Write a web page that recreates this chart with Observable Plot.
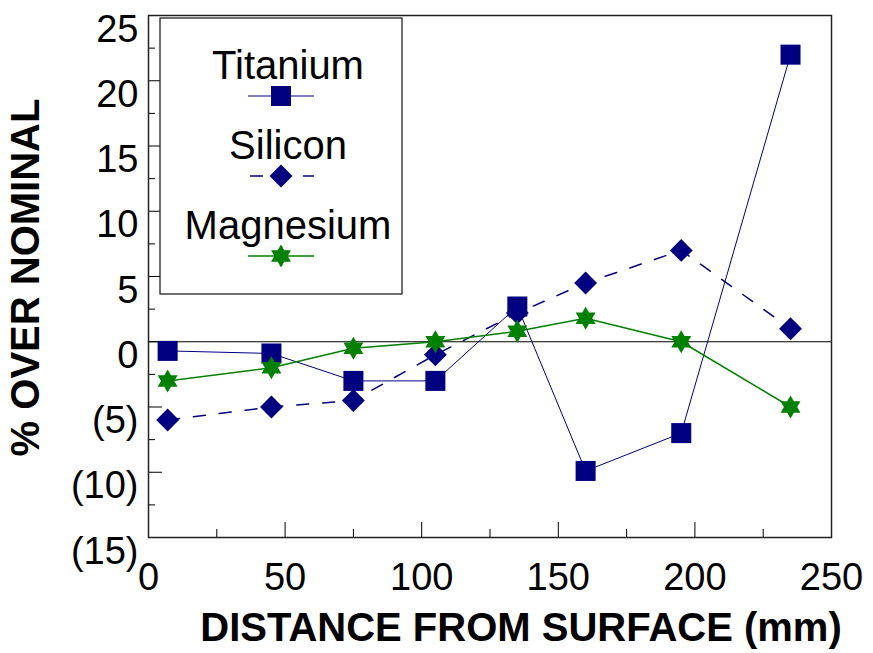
<!DOCTYPE html>
<html>
<head>
<meta charset="utf-8">
<script src="https://cdn.jsdelivr.net/npm/d3@7"></script>
<script src="https://cdn.jsdelivr.net/npm/@observablehq/plot@0.6"></script>
<style>
  html, body { margin: 0; padding: 0; background: #fff; }
  #chart { width: 873px; height: 653px; }
</style>
</head>
<body>
<div id="chart"></div>
<script>
// ---- data ----
const seriesNames = ["Titanium", "Silicon", "Magnesium"];
const distance = [7, 45, 75, 105, 135, 160, 195, 235];
const titanium = [-0.7, -0.9, -3, -3, 2.7, -9.9, -7, 22];
const silicon = [-6, -5, -4.5, -1, 2.2, 4.5, 7, 1];
const magnesium = [-3, -2, -0.5, 0, 0.8, 1.8, 0, -5];
const xTickValues = [0, 50, 100, 150, 200, 250];
const xMinorTicks = [25, 75, 125, 175, 225];
const yTickValues = [-15, -10, -5, 0, 5, 10, 15, 20, 25];
const yMinorTicks = [-12.5, -7.5, -2.5, 2.5, 7.5, 12.5, 17.5, 22.5];
const xTitle = "DISTANCE FROM SURFACE (mm)";
const yTitle = "% OVER NOMINAL";

// ---- styles ----
const NAVY = "#000080", GREEN = "#008000";
const FONT = "'Liberation Sans', Arial, sans-serif";

const hexagram = {
  draw(ctx, size) {
    const R = Math.sqrt(size / Math.PI), r = R / Math.sqrt(3);
    for (let i = 0; i < 12; i++) {
      const a = i * Math.PI / 6 - Math.PI / 2;
      const rad = i % 2 === 0 ? R : r;
      const x = rad * Math.cos(a), y = rad * Math.sin(a);
      if (i === 0) ctx.moveTo(x, y); else ctx.lineTo(x, y);
    }
    ctx.closePath();
  }
};

const series = [
  {name: seriesNames[0], values: titanium, color: NAVY, width: 1, dash: null, symbol: "square", r: 11.3, d3sym: d3.symbolSquare},
  {name: seriesNames[1], values: silicon, color: NAVY, width: 1.5, dash: "12,14", symbol: "diamond2", r: 10.3, d3sym: d3.symbolDiamond2},
  {name: seriesNames[2], values: magnesium, color: GREEN, width: 1.5, dash: null, symbol: hexagram, r: 11.5, d3sym: hexagram}
];
const table = s => distance.map((d, i) => ({x: d, y: s.values[i]}));

const W = 873, H = 653, ML = 148, MR = 42, MT = 15, MB = 116;
const FW = W - ML - MR, FH = H - MT - MB;

const marks = [
  Plot.ruleY([0], {stroke: "#000", strokeWidth: 1}),
  Plot.tickY(yTickValues, {y: d => d, stroke: "#000", insetRight: FW - 14}),
  Plot.tickY(yMinorTicks, {y: d => d, stroke: "#000", insetRight: FW - 7}),
  Plot.tickX(xTickValues, {x: d => d, stroke: "#000", insetTop: FH - 15}),
  Plot.tickX(xMinorTicks, {x: d => d, stroke: "#000", insetTop: FH - 8}),
  Plot.axisY({ticks: yTickValues, tickSize: 0, tickPadding: 10, dy: 14, fontSize: 38,
    tickFormat: d => d < 0 ? `(${-d})` : `${d}`, label: null}),
  Plot.axisX({ticks: xTickValues, tickSize: 0, tickPadding: 26, fontSize: 38, label: null}),
];
for (const s of series) {
  marks.push(Plot.line(table(s), {x: "x", y: "y", stroke: s.color, strokeWidth: s.width,
    strokeDasharray: s.dash}));
}
for (const s of series) {
  marks.push(Plot.dot(table(s), {x: "x", y: "y", symbol: () => s.symbol, r: s.r, fill: s.color, stroke: "none"}));
}
marks.push(
  Plot.frame({stroke: "#222", strokeWidth: 1.5}),
  Plot.text([xTitle], {frameAnchor: "bottom", text: d => d, dx: 31, dy: 103, fontSize: 40, fontWeight: "bold", fill: "#000"}),
  Plot.text([yTitle], {frameAnchor: "left", textAnchor: "middle", text: d => d, rotate: -90, dx: -122, dy: 1, fontSize: 40, fontWeight: "bold", fill: "#000"})
);

const chart = Plot.plot({
  width: W, height: H,
  marginLeft: ML, marginRight: MR, marginTop: MT, marginBottom: MB,
  x: {domain: [0, 250]},
  y: {domain: [-15, 25]},
  symbol: {type: "identity"},
  style: {fontFamily: FONT, background: "#fff", color: "#000", overflow: "visible"},
  marks
});

// ---- legend (inside plot, top-left) ----
const svg = d3.select(chart);
const lg = svg.append("g").attr("font-family", FONT);
lg.append("rect").attr("x", 160).attr("y", 18).attr("width", 242).attr("height", 276)
  .attr("fill", "#fff").attr("stroke", "#111").attr("stroke-width", 1.2);
series.forEach((s, i) => {
  const cy = 96 + i * 80;
  lg.append("text").attr("x", 288).attr("y", cy - 17).attr("text-anchor", "middle")
    .attr("font-size", 40).attr("fill", "#000").text(s.name);
  const ln = lg.append("line").attr("x1", i === 1 ? 250 : 248).attr("x2", 314).attr("y1", cy).attr("y2", cy)
    .attr("stroke", s.color).attr("stroke-width", s.width);
  if (s.dash) ln.attr("stroke-dasharray", "13,40");
  lg.append("path").attr("transform", `translate(281,${cy})`)
    .attr("d", d3.symbol().type(s.d3sym).size(Math.PI * s.r * s.r)())
    .attr("fill", s.color);
});

document.getElementById("chart").appendChild(chart);
</script>
</body>
</html>
